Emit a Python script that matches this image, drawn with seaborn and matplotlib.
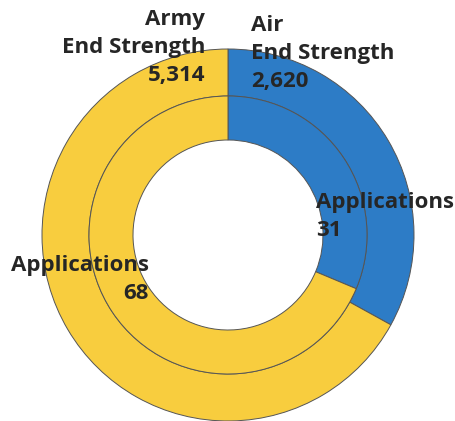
import matplotlib
matplotlib.use("Agg")
import matplotlib.pyplot as plt
import seaborn as sns

# outer ring: end strength, inner ring: applications
outer_labels = ["Air\nEnd Strength", "Army\nEnd Strength"]
outer_values = [2620, 5314]
inner_labels = ["Applications", "Applications"]
inner_values = [31, 68]
ring_colors = ["#2D7CC6", "#F8CD3E"]

sns.set_theme(style="white")
plt.rcParams["font.family"] = ["Open Sans", "DejaVu Sans"]

W, H = 456, 421
fig = plt.figure(figsize=(W / 100, H / 100), dpi=100)
ax = fig.add_axes([0, 0, 1, 1])

cx, cy = 228, 186
r_out, r_mid, r_in = 186, 139, 95

wedge_kw = dict(edgecolor="#555555", linewidth=0.7)
ax.pie(outer_values, colors=ring_colors, startangle=90, counterclock=False,
       radius=r_out, center=(cx, cy),
       wedgeprops=dict(width=r_out - r_mid, **wedge_kw))
ax.pie(inner_values, colors=ring_colors, startangle=90, counterclock=False,
       radius=r_mid, center=(cx, cy),
       wedgeprops=dict(width=r_mid - r_in, **wedge_kw))

ax.set_xlim(0, W)
ax.set_ylim(0, H)
ax.set_aspect("equal")
ax.axis("off")

txt = dict(fontsize=16, fontweight="bold", color="#262626", linespacing=1.45)
ax.text(251, H - 15, f"{outer_labels[0]}\n{outer_values[0]:,}", ha="left", va="top", **txt)
ax.text(205, H - 9, f"{outer_labels[1]}\n{outer_values[1]:,}", ha="right", va="top",
        multialignment="right", **txt)
ax.text(316, H - 192, f"{inner_labels[0]}\n{inner_values[0]}", ha="left", va="top", **txt)
ax.text(149, H - 255, f"{inner_labels[1]}\n{inner_values[1]}", ha="right", va="top",
        multialignment="right", **txt)

fig.savefig("out.png", dpi=100)
